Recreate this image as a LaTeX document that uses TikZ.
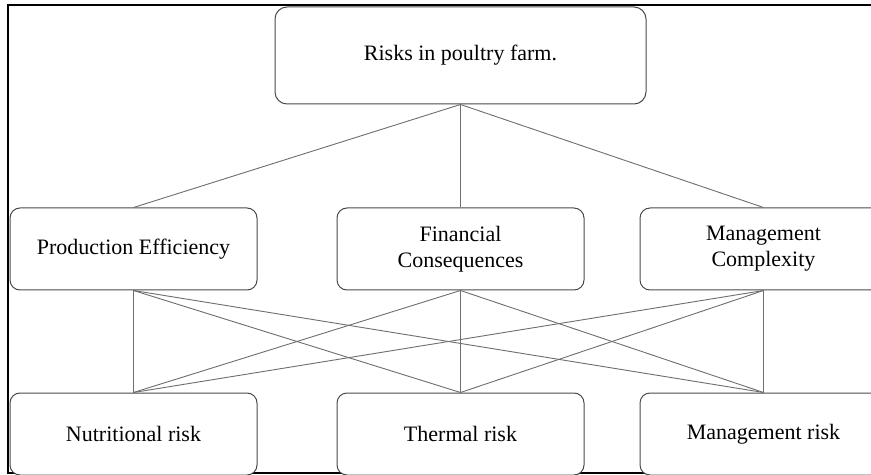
\documentclass[tikz,border=0pt]{standalone}
\usepackage{fontspec}
\setmainfont{Liberation Serif}
\usepackage{xcolor}
\usepackage{tikz}
\usetikzlibrary{positioning}
\definecolor{boxgray}{HTML}{4A4A4A}
\definecolor{linkgray}{HTML}{6E6E6E}
\tikzset{
  riskbox/.style={draw=boxgray,line width=0.5pt,rounded corners=5pt,align=center,fill=white,
    minimum width=123.5pt,minimum height=41pt,font=\fontsize{11}{13}\selectfont,inner sep=2pt},
  riskhead/.style={riskbox,minimum width=185.5pt,minimum height=48.5pt,rounded corners=6pt},
  risklink/.style={draw=linkgray,line width=0.45pt}
}
\begin{document}
\begin{tikzpicture}[x=0.5pt,y=-0.5pt]
  \useasboundingbox (0,0) rectangle (871,475);
  \fill[white] (0,0) rectangle (871,475);
  \draw[line width=1.1pt] (8,5) rectangle (900,473);
  \node[riskhead] (top) at (460.5,55.5) {Risks in poultry farm.};
  \node[riskbox,below=51.5pt of top] (fin) {Financial\\Consequences};
  \node[riskbox,left=39.5pt of fin] (prod) {Production Efficiency};
  \node[riskbox,right=27.5pt of fin] (mgmt) {Management\\Complexity};
  \node[riskbox,below=51pt of prod] (nutr) {Nutritional risk};
  \node[riskbox,below=51pt of fin] (therm) {Thermal risk};
  \node[riskbox,below=51pt of mgmt] (mrisk) {Management risk};
  \draw[risklink] (top.south)--(prod.north);
  \draw[risklink] (top.south)--(fin.north);
  \draw[risklink] (top.south)--(mgmt.north);
  \draw[risklink] (prod.south)--(nutr.north);
  \draw[risklink] (prod.south)--(therm.north);
  \draw[risklink] (prod.south)--(mrisk.north);
  \draw[risklink] (fin.south)--(nutr.north);
  \draw[risklink] (fin.south)--(therm.north);
  \draw[risklink] (fin.south)--(mrisk.north);
  \draw[risklink] (mgmt.south)--(nutr.north);
  \draw[risklink] (mgmt.south)--(therm.north);
  \draw[risklink] (mgmt.south)--(mrisk.north);
\end{tikzpicture}
\end{document}
